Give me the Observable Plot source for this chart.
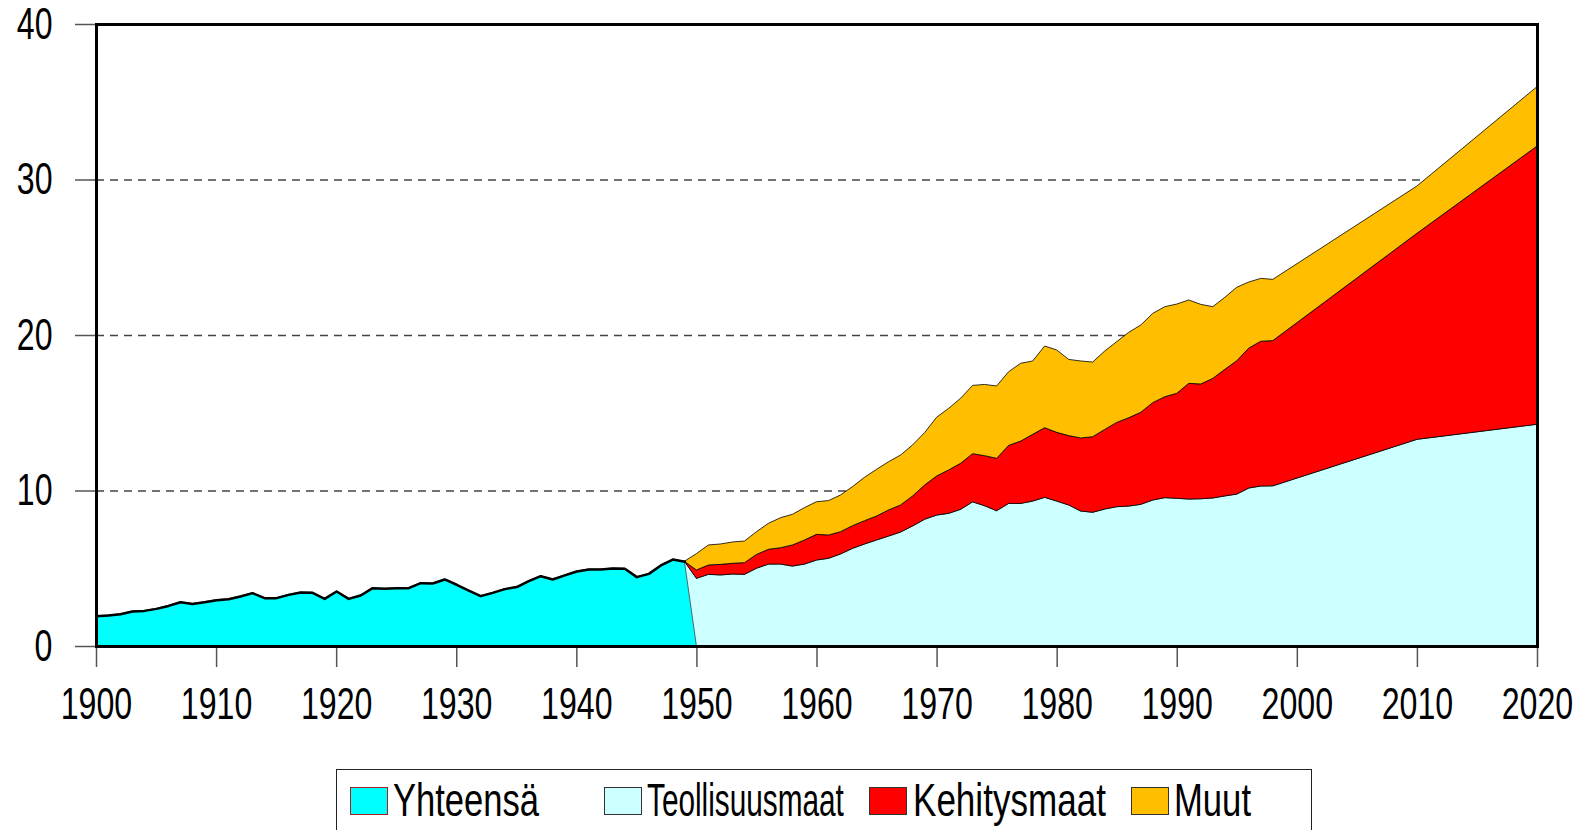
<!DOCTYPE html>
<html><head><meta charset="utf-8">
<script src="https://cdn.jsdelivr.net/npm/d3@7"></script>
<script src="https://cdn.jsdelivr.net/npm/@observablehq/plot@0.6"></script>
<style>
body{margin:0;background:#fff;font-family:"Liberation Sans",Arial,sans-serif;}
#wrap{position:relative;width:1583px;height:830px;overflow:hidden;background:#fff;}
#legend{position:absolute;left:336px;top:769px;width:976px;height:90px;border:1.5px solid #222;box-sizing:border-box;}
.sw{position:absolute;top:17px;width:38px;height:28px;border:1px solid #333;box-sizing:border-box;}
.lbl{position:absolute;top:7px;font-size:46px;line-height:46px;transform-origin:0 0;white-space:nowrap;color:#000;}
</style></head>
<body><div id="wrap"><div id="chart"></div><div id="legend"></div></div>
<script>
// ---- data ----
const yhtYears = [1900,1901,1902,1903,1904,1905,1906,1907,1908,1909,
  1910,1911,1912,1913,1914,1915,1916,1917,1918,1919,
  1920,1921,1922,1923,1924,1925,1926,1927,1928,1929,
  1930,1931,1932,1933,1934,1935,1936,1937,1938,1939,
  1940,1941,1942,1943,1944,1945,1946,1947,1948,1949,1950];
const yhteensa = [1.95,1.99,2.08,2.25,2.29,2.42,2.61,2.85,2.74,2.85,
  2.98,3.04,3.22,3.43,3.11,3.11,3.32,3.47,3.45,3.06,
  3.54,3.06,3.28,3.75,3.71,3.75,3.75,4.07,4.05,4.31,
  3.97,3.60,3.24,3.45,3.69,3.82,4.20,4.52,4.31,4.57,
  4.82,4.95,4.95,5.02,5.00,4.46,4.67,5.21,5.59,5.45,0];

const stackYears = [1949,1950,1951,1952,1953,1954,1955,1956,1957,1958,1959,
  1960,1961,1962,1963,1964,1965,1966,1967,1968,1969,
  1970,1971,1972,1973,1974,1975,1976,1977,1978,1979,
  1980,1981,1982,1983,1984,1985,1986,1987,1988,1989,
  1990,1991,1992,1993,1994,1995,1996,1997,1998,2010,2020];
const teollisuusmaat = [5.45,4.35,4.61,4.57,4.63,4.61,5.00,5.27,5.27,5.14,5.27,
  5.53,5.64,5.92,6.28,6.56,6.82,7.07,7.33,7.72,8.15,
  8.42,8.53,8.79,9.27,9.02,8.70,9.17,9.17,9.32,9.56,
  9.32,9.07,8.68,8.60,8.81,8.96,9.00,9.11,9.39,9.54,
  9.50,9.45,9.47,9.52,9.65,9.77,10.16,10.29,10.30,13.29,14.26];
const kehitysmaat = [0,0.54,0.60,0.68,0.69,0.75,0.89,0.95,1.05,1.36,1.55,
  1.65,1.50,1.43,1.46,1.50,1.54,1.68,1.74,1.93,2.20,
  2.51,2.79,2.96,3.10,3.22,3.37,3.73,4.01,4.29,4.48,
  4.42,4.46,4.70,4.86,5.12,5.42,5.68,5.92,6.26,6.49,
  6.75,7.44,7.38,7.69,8.14,8.58,9.00,9.31,9.34,13.25,17.89];
const muut = [0,1.05,1.29,1.31,1.37,1.39,1.46,1.67,1.93,1.97,2.08,
  2.10,2.21,2.36,2.51,2.79,3.00,3.10,3.21,3.28,3.37,
  3.78,3.96,4.18,4.39,4.58,4.65,4.74,5.00,4.72,5.25,
  5.30,4.90,4.95,4.80,5.04,5.19,5.49,5.61,5.74,5.79,
  5.74,5.36,5.12,4.61,4.63,4.72,4.25,4.04,3.94,3.04,3.82];

const seriesNames = ["Yhteensä","Teollisuusmaat","Kehitysmaat","Muut"];
const seriesColors = ["#00ffff","#ccffff","#ff0000","#ffbf00"];
const xTicks = [1900,1910,1920,1930,1940,1950,1960,1970,1980,1990,2000,2010,2020];
const yTicks = [0,10,20,30,40];
const gridValues = [10,20,30];

// ---- tables ----
const yhtRows = yhtYears.map((year,i)=>({year, value: yhteensa[i]}));
const stackRows = [];
[[seriesNames[1],teollisuusmaat],[seriesNames[2],kehitysmaat],[seriesNames[3],muut]].forEach(([s,vals])=>{
  stackYears.forEach((year,i)=>stackRows.push({year, value: vals[i], series: s}));
});

const chart = Plot.plot({
  width: 1583, height: 769,
  marginTop: 24, marginBottom: 123, marginLeft: 96, marginRight: 46,
  style: {fontFamily: '"Liberation Sans", Arial, sans-serif', color: "black", background: "white", overflow: "visible"},
  x: {domain: [1900, 2020], label: null},
  y: {domain: [0, 40], label: null},
  color: {domain: seriesNames, range: seriesColors},
  marks: [
    Plot.ruleY(gridValues, {stroke: "#444", strokeWidth: 1.3, strokeDasharray: "8,6"}),
    Plot.areaY(stackRows, {x: "year", y: "value", z: "series", fill: "series", stroke: "black", strokeWidth: 0.8}),
    Plot.areaY(yhtRows, {x: "year", y: "value", fill: seriesColors[0], stroke: "#444", strokeWidth: 0.8}),
    Plot.lineY(yhtRows.filter(d => d.year <= 1949), {x: "year", y: "value", stroke: "black", strokeWidth: 2.5}),
    Plot.axisX({ticks: xTicks, tickSize: 21, tickPadding: 20, fontSize: 44, label: null, tickFormat: d => String(d), stroke: "#555", strokeWidth: 1.5}),
    Plot.axisY({ticks: yTicks, tickSize: 21, tickPadding: 23, fontSize: 44, label: null, stroke: "#555", strokeWidth: 1.5}),
    Plot.frame({stroke: "black", strokeWidth: 3})
  ]
});
document.getElementById("chart").appendChild(chart);

// condensed tick labels (horizontal squeeze, keeping anchor)
chart.querySelectorAll('g[aria-label$="tick label"] text').forEach(t => {
  const w = t.getComputedTextLength();
  if (w > 0) {
    t.setAttribute("textLength", (w * 0.73).toFixed(1));
    t.setAttribute("lengthAdjust", "spacingAndGlyphs");
  }
});

// legend
const legendPos = [[13,56],[267,310],[532,576],[794,837]];
const legendTextW = [146,197,193,77];
const swBorders = ["#a02020","#333","#333","#333"];
const legend = document.getElementById("legend");
seriesNames.forEach((name,i)=>{
  const sw = document.createElement("div");
  sw.className = "sw"; sw.style.left = legendPos[i][0] + "px";
  sw.style.background = seriesColors[i]; sw.style.borderColor = swBorders[i];
  legend.appendChild(sw);
  const lb = document.createElement("div");
  lb.className = "lbl"; lb.style.left = legendPos[i][1] + "px"; lb.textContent = name;
  legend.appendChild(lb);
  const nat = lb.getBoundingClientRect().width;
  lb.style.transform = `scaleX(${(legendTextW[i] / nat).toFixed(3)})`;
});
</script></body></html>
